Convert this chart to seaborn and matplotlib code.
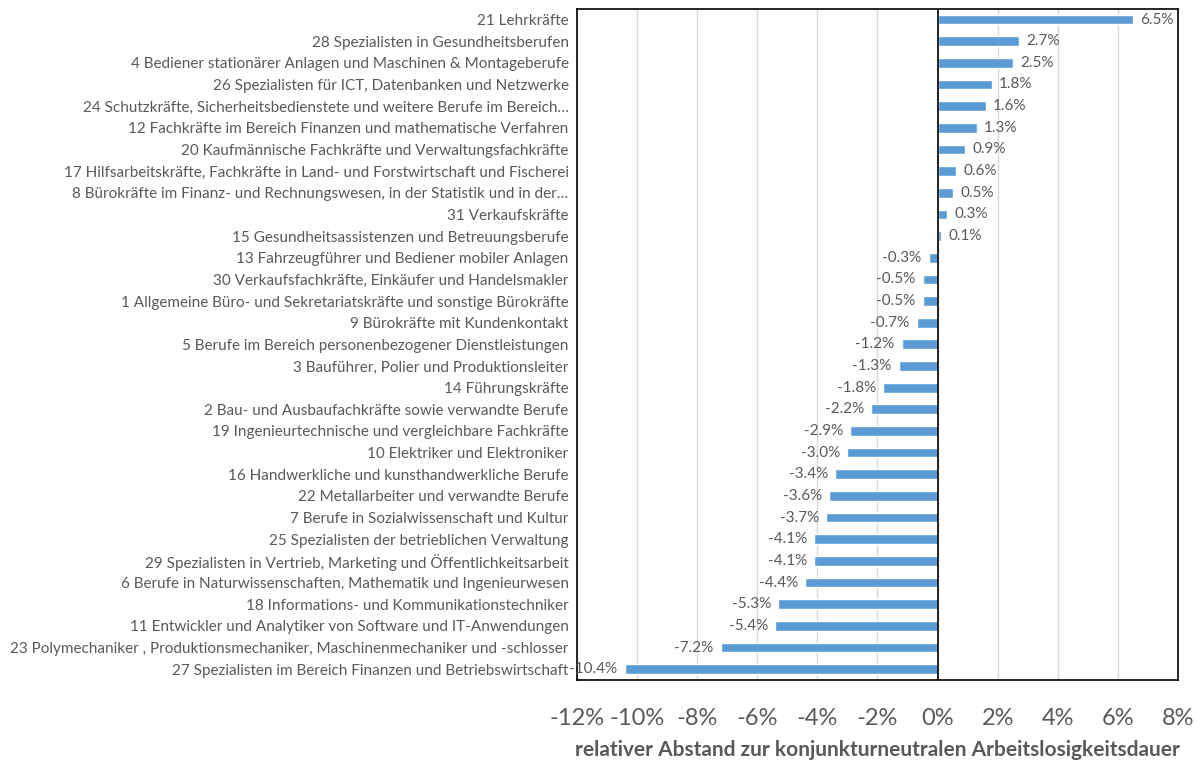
import pandas as pd
import matplotlib.pyplot as plt
import seaborn as sns
from matplotlib.ticker import FuncFormatter

berufe = [
    "21 Lehrkräfte",
    "28 Spezialisten in Gesundheitsberufen",
    "4 Bediener stationärer Anlagen und Maschinen & Montageberufe",
    "26 Spezialisten für ICT, Datenbanken und Netzwerke",
    "24 Schutzkräfte, Sicherheitsbedienstete und weitere Berufe im Bereich…",
    "12 Fachkräfte im Bereich Finanzen und mathematische Verfahren",
    "20 Kaufmännische Fachkräfte und Verwaltungsfachkräfte",
    "17 Hilfsarbeitskräfte, Fachkräfte in Land- und Forstwirtschaft und Fischerei",
    "8 Bürokräfte im Finanz- und Rechnungswesen, in der Statistik und in der…",
    "31 Verkaufskräfte",
    "15 Gesundheitsassistenzen und Betreuungsberufe",
    "13 Fahrzeugführer und Bediener mobiler Anlagen",
    "30 Verkaufsfachkräfte, Einkäufer und Handelsmakler",
    "1 Allgemeine Büro- und Sekretariatskräfte und sonstige Bürokräfte",
    "9 Bürokräfte mit Kundenkontakt",
    "5 Berufe im Bereich personenbezogener Dienstleistungen",
    "3 Bauführer, Polier und Produktionsleiter",
    "14 Führungskräfte",
    "2 Bau- und Ausbaufachkräfte sowie verwandte Berufe",
    "19 Ingenieurtechnische und vergleichbare Fachkräfte",
    "10 Elektriker und Elektroniker",
    "16 Handwerkliche und kunsthandwerkliche Berufe",
    "22 Metallarbeiter und verwandte Berufe",
    "7 Berufe in Sozialwissenschaft und Kultur",
    "25 Spezialisten der betrieblichen Verwaltung",
    "29 Spezialisten in Vertrieb, Marketing und Öffentlichkeitsarbeit",
    "6 Berufe in Naturwissenschaften, Mathematik und Ingenieurwesen",
    "18 Informations- und Kommunikationstechniker",
    "11 Entwickler und Analytiker von Software und IT-Anwendungen",
    "23 Polymechaniker , Produktionsmechaniker, Maschinenmechaniker und -schlosser",
    "27 Spezialisten im Bereich Finanzen und Betriebswirtschaft",
]
abstand = [6.5, 2.7, 2.5, 1.8, 1.6, 1.3, 0.9, 0.6, 0.5, 0.3, 0.1,
           -0.3, -0.5, -0.5, -0.7, -1.2, -1.3, -1.8, -2.2, -2.9, -3.0,
           -3.4, -3.6, -3.7, -4.1, -4.1, -4.4, -5.3, -5.4, -7.2, -10.4]

df = pd.DataFrame({"beruf": berufe, "abstand": abstand})

sns.set_style("white")
plt.rcParams["font.family"] = ["Lato", "DejaVu Sans"]

grau = "#595959"
fig = plt.figure(figsize=(11.98, 7.62), dpi=100)
ax = fig.add_axes([0.4816, 0.1076, 0.5017, 0.881])

sns.barplot(data=df, x="abstand", y="beruf", color="#5B9BD5", width=0.45,
            saturation=1, orient="h", ax=ax, zorder=3)

ax.set_xlim(-12, 8)
ax.set_xticks(range(-12, 9, 2))
ax.xaxis.set_major_formatter(FuncFormatter(lambda v, p: f"{v:.0f}%"))
ax.grid(axis="x", color="#D9D9D9", linewidth=1, zorder=0)
ax.axvline(0, color="black", linewidth=1.2, zorder=4)
for s in ax.spines.values():
    s.set_color("black")
    s.set_linewidth(1.2)

ax.tick_params(axis="x", labelsize=17, labelcolor=grau, length=0, pad=20)
ax.tick_params(axis="y", labelsize=11, labelcolor=grau, length=0, pad=6)
ax.set_ylabel("")
ax.set_xlabel("relativer Abstand zur konjunkturneutralen Arbeitslosigkeitsdauer",
              fontsize=15, fontweight="bold", color=grau, labelpad=8)

for i, v in enumerate(abstand):
    off = 0.25 if v >= 0 else -0.25
    ax.text(v + off, i, f"{v:.1f}%", ha="left" if v >= 0 else "right",
            va="center", fontsize=11, color=grau, zorder=5)

fig.savefig("out.png", dpi=100)
